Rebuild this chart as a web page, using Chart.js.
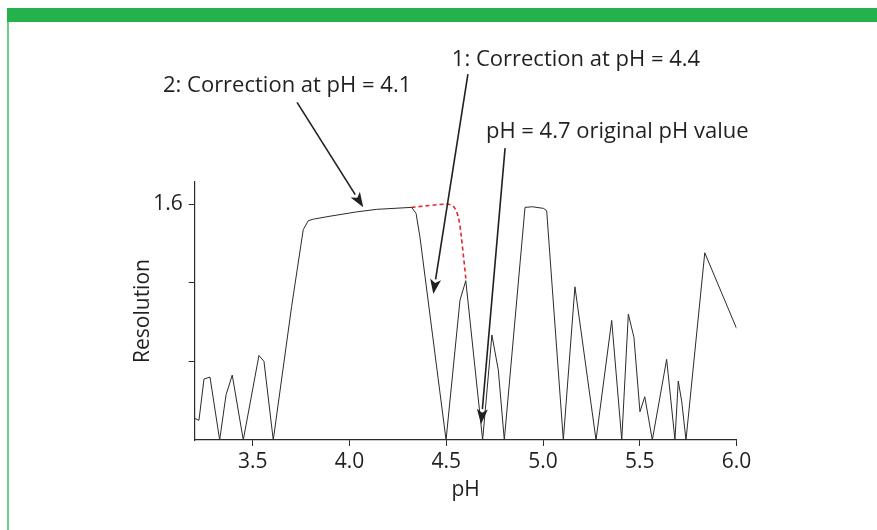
<!DOCTYPE html>
<html lang="en">
<head>
    <meta charset="UTF-8">
    <title>Resolution vs pH</title>
    <script src="https://cdn.jsdelivr.net/npm/chart.js@4.4.1/dist/chart.umd.min.js"></script>
    <style>
        body { margin: 0; background: #fff; }
        #topBar { position: absolute; left: 7px; top: 8px; width: 870px; height: 14px; background: #23b24c; }
        #leftBar { position: absolute; left: 7px; top: 22px; width: 2px; height: 508px; background: #6dce84; }
        #myChart { position: absolute; left: 0; top: 0; }
    </style>
</head>
<body>
    <div id="topBar"></div>
    <div id="leftBar"></div>
    <canvas id="myChart" width="877" height="530"></canvas>
    <script>
        // values
        const pH = [3.200, 3.222, 3.248, 3.279, 3.329, 3.362, 3.394, 3.451, 3.532, 3.558,
                    3.606, 3.701, 3.761, 3.787, 3.813, 3.899, 4.037, 4.141, 4.321, 4.344,
                    4.364, 4.499, 4.571, 4.601, 4.688, 4.736, 4.769, 4.800, 4.907, 4.945,
                    5.002, 5.019, 5.105, 5.165, 5.274, 5.355, 5.407, 5.441, 5.470, 5.501,
                    5.526, 5.565, 5.639, 5.682, 5.699, 5.717, 5.739, 5.836, 6.000];
        const resolution = [0.51, 0.50, 0.71, 0.72, 0.40, 0.63, 0.73, 0.40, 0.83, 0.80,
                            0.40, 1.08, 1.47, 1.515, 1.523, 1.538, 1.56, 1.573, 1.583, 1.552,
                            1.433, 0.40, 1.111, 1.21, 0.40, 0.934, 0.756, 0.40, 1.583, 1.586,
                            1.578, 1.566, 0.40, 1.179, 0.40, 1.008, 0.40, 1.04, 0.922, 0.544,
                            0.62, 0.40, 0.81, 0.40, 0.70, 0.595, 0.40, 1.352, 0.968];

        // red dashed correction curve
        const correctedPH = [4.321, 4.502, 4.527, 4.545, 4.562, 4.576, 4.602];
        const correctedRes = [1.583, 1.600, 1.594, 1.578, 1.535, 1.450, 1.213];

        const xTicks = [3.5, 4.0, 4.5, 5.0, 5.5, 6.0];
        const yTicks = [0.8, 1.2, 1.6];
        const yLabelled = [1.6];

        // annotations: text anchor and arrow in data units
        const noteText = ['2: Correction at pH = 4.1', '1: Correction at pH = 4.4', 'pH = 4.7 original pH value'];
        const noteTextPos = [[3.036, 2.199], [4.529, 2.336], [4.705, 1.970]];
        const arrowTail = [[3.729, 2.117], [4.612, 2.260], [4.804, 1.884]];
        const arrowTip = [[4.071, 1.583], [4.433, 1.142], [4.680, 0.481]];

        const FONT = '"Open Sans", "Noto Sans", sans-serif';

        const annotations = {
            id: 'annotations',
            afterDraw(chart) {
                const { ctx, scales: { x, y } } = chart;
                ctx.save();
                ctx.fillStyle = '#231f20';
                ctx.strokeStyle = '#231f20';
                ctx.font = '22px ' + FONT;
                ctx.textBaseline = 'middle';
                noteText.forEach((t, i) => {
                    ctx.fillText(t, x.getPixelForValue(noteTextPos[i][0]), y.getPixelForValue(noteTextPos[i][1]));
                });
                arrowTail.forEach((tail, i) => {
                    const x1 = x.getPixelForValue(tail[0]), y1 = y.getPixelForValue(tail[1]);
                    const x2 = x.getPixelForValue(arrowTip[i][0]), y2 = y.getPixelForValue(arrowTip[i][1]);
                    const ang = Math.atan2(y2 - y1, x2 - x1);
                    const len = 15, half = 5.5;
                    ctx.lineWidth = 1.6;
                    ctx.beginPath();
                    ctx.moveTo(x1, y1);
                    ctx.lineTo(x2 - Math.cos(ang) * len, y2 - Math.sin(ang) * len);
                    ctx.stroke();
                    ctx.beginPath();
                    ctx.moveTo(x2, y2);
                    ctx.lineTo(x2 - Math.cos(ang) * len - Math.sin(ang) * half, y2 - Math.sin(ang) * len + Math.cos(ang) * half);
                    ctx.lineTo(x2 - Math.cos(ang) * len * 0.75, y2 - Math.sin(ang) * len * 0.75);
                    ctx.lineTo(x2 - Math.cos(ang) * len + Math.sin(ang) * half, y2 - Math.sin(ang) * len - Math.cos(ang) * half);
                    ctx.closePath();
                    ctx.fill();
                });
                ctx.restore();
            }
        };

        const ctx = document.getElementById('myChart').getContext('2d');
        new Chart(ctx, {
            type: 'line',
            data: {
                datasets: [{
                    data: pH.map((v, i) => ({ x: v, y: resolution[i] })),
                    borderColor: '#2b2b2b',
                    borderWidth: 1,
                    pointRadius: 0,
                    tension: 0,
                }, {
                    data: correctedPH.map((v, i) => ({ x: v, y: correctedRes[i] })),
                    borderColor: '#e3262b',
                    borderWidth: 1.6,
                    borderDash: [4, 3],
                    pointRadius: 0,
                    tension: 0.3,
                }],
            },
            options: {
                responsive: false,
                animation: false,
                layout: { padding: { top: 182, right: 140.5, bottom: 23.4, left: 126.4 } },
                plugins: { legend: { display: false }, tooltip: { enabled: false } },
                scales: {
                    x: {
                        type: 'linear',
                        min: 3.2,
                        max: 6.0,
                        afterFit: s => { s.height = 66.6; },
                        afterBuildTicks: s => { s.ticks = xTicks.map(v => ({ value: v })); },
                        grid: { drawOnChartArea: false, tickLength: 6, color: '#2b2b2b' },
                        border: { color: '#2b2b2b', width: 1.2 },
                        ticks: {
                            color: '#231f20', padding: 3, maxRotation: 0,
                            font: { family: FONT, size: 21 },
                            callback: v => v.toFixed(1),
                        },
                        title: { display: true, text: 'pH', color: '#231f20', font: { family: FONT, size: 21 } },
                    },
                    y: {
                        min: 0.4,
                        max: 1.712,
                        afterFit: s => { s.width = 68.3; },
                        afterBuildTicks: s => { s.ticks = yTicks.map(v => ({ value: v })); },
                        grid: { drawOnChartArea: false, tickLength: 6, color: '#2b2b2b' },
                        border: { color: '#2b2b2b', width: 1.2 },
                        ticks: {
                            color: '#231f20', padding: 6,
                            font: { family: FONT, size: 21 },
                            callback: v => yLabelled.includes(v) ? v.toFixed(1) : '',
                        },
                        title: { display: true, text: 'Resolution', color: '#231f20', font: { family: FONT, size: 21 } },
                    },
                },
            },
            plugins: [annotations],
        });
    </script>
</body>
</html>
